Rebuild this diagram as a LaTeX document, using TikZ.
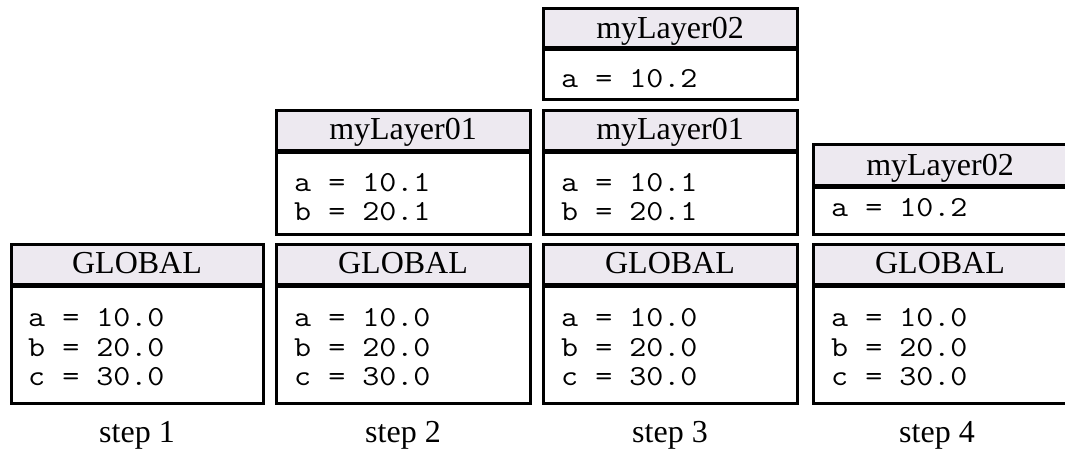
\documentclass[tikz,border=0pt]{standalone}
\usepackage{fontspec}
\setmainfont{Liberation Serif}
\newfontfamily\codefont{Latin Modern Mono}[FakeStretch=1.14]
\definecolor{hdrfill}{RGB}{237,233,240}
\tikzset{
  frame/.style={draw=black,line width=3pt},
  sepline/.style={draw=black,line width=5pt},
  hdr/.style={fill=hdrfill},
  title/.style={anchor=base,inner sep=0pt,font=\fontsize{32}{38}\selectfont},
  row/.style={anchor=base west,inner sep=0pt,font=\codefont\fontsize{29}{35}\selectfont},
  steplabel/.style={anchor=base,inner sep=0pt,font=\fontsize{32}{38}\selectfont},
}
% left, right, top, separator, bottom
\newcommand\drawlayer[5]{%
  \fill[hdr] (#1,#3) rectangle (#2,#4);
  \draw[sepline] (#1,#4) -- (#2,#4);
  \draw[frame] (#1,#3) rectangle (#2,#5);
}
\begin{document}
\begin{tikzpicture}[x=1pt,y=-1pt]
\useasboundingbox (0,0) rectangle (1065,452);
\fill[white] (0,0) rectangle (1065,452);

% ---- step 1
\drawlayer{11}{263}{244}{285}{403}
\node[title] (g1t) at (137,273) {GLOBAL};
\node[row] (g1a) at (28,326) {a = 10.0};
\node[row] (g1b) at (28,356) {b = 20.0};
\node[row] (g1c) at (28,385) {c = 30.0};
\node[steplabel] (s1) at (137,442) {step 1};

% ---- step 2
\drawlayer{276}{530}{110}{151}{234}
\node[title] (l1t2) at (403,139) {myLayer01};
\node[row] (l1a2) at (294,191) {a = 10.1};
\node[row] (l1b2) at (294,220) {b = 20.1};
\drawlayer{276}{530}{244}{285}{403}
\node[title] (g2t) at (403,273) {GLOBAL};
\node[row] (g2a) at (294,326) {a = 10.0};
\node[row] (g2b) at (294,356) {b = 20.0};
\node[row] (g2c) at (294,385) {c = 30.0};
\node[steplabel] (s2) at (403,442) {step 2};

% ---- step 3
\drawlayer{543}{797}{9}{49}{99}
\node[title] (l2t3) at (670,38) {myLayer02};
\node[row] (l2a3) at (561,88) {a = 10.2};
\drawlayer{543}{797}{110}{151}{234}
\node[title] (l1t3) at (670,139) {myLayer01};
\node[row] (l1a3) at (561,191) {a = 10.1};
\node[row] (l1b3) at (561,220) {b = 20.1};
\drawlayer{543}{797}{244}{285}{403}
\node[title] (g3t) at (670,273) {GLOBAL};
\node[row] (g3a) at (561,326) {a = 10.0};
\node[row] (g3b) at (561,356) {b = 20.0};
\node[row] (g3c) at (561,385) {c = 30.0};
\node[steplabel] (s3) at (670,442) {step 3};

% ---- step 4
\drawlayer{813}{1068}{144}{186}{234}
\node[title] (l2t4) at (940,175) {myLayer02};
\node[row] (l2a4) at (831,216) {a = 10.2};
\drawlayer{813}{1068}{244}{285}{403}
\node[title] (g4t) at (940,273) {GLOBAL};
\node[row] (g4a) at (831,326) {a = 10.0};
\node[row] (g4b) at (831,356) {b = 20.0};
\node[row] (g4c) at (831,385) {c = 30.0};
\node[steplabel] (s4) at (937,442) {step 4};
\end{tikzpicture}
\end{document}
